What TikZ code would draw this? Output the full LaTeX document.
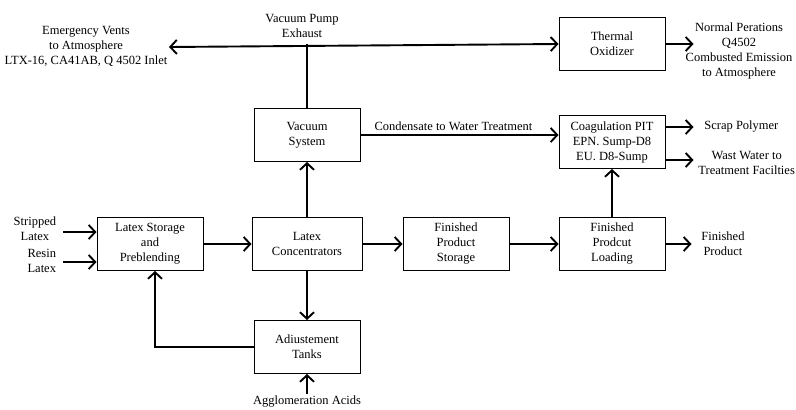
\documentclass[tikz,border=0pt]{standalone}
\usepackage{fontspec}
\setmainfont{Liberation Serif}
\usetikzlibrary{arrows.meta,positioning}

\begin{document}
\begin{tikzpicture}[
    x = 1pt, y = -1pt, % page units, y runs downwards
    > = {Straight Barb[length=6.5pt,width=14pt]}, % open arrow head
    node distance = 48pt, % distance between boxes
    font = \fontsize{12.5}{15}\selectfont,
    line width = 1.9pt % line style
    ]

    \tikzset{unit/.style={
    draw = black,
    line width = 1pt,
    fill = white,
    align = center,
    minimum width = 106pt,
    minimum height = 53pt
    }}
    \tikzset{lbl/.style={align=center, inner sep=1pt}}

    \useasboundingbox (0,0) rectangle (796,410);

    \node[unit] (lsp) at (150,244) {Latex Storage\\and\\Preblending};
    \node[unit, minimum width=110pt] (conc) [right=48pt of lsp] {Latex\\Concentrators};
    \node[unit] (fps) [right=40pt of conc] {Finished\\Product\\Storage};
    \node[unit] (fpl) [right=49pt of fps] {Finished\\Prodcut\\Loading};
    \node[unit] (vac) [above=55pt of conc] {Vacuum\\System};
    \node[unit] (adj) [below=49pt of conc] {Adiustement\\Tanks};
    \node[unit] (coag) [above=of fpl] {Coagulation PIT\\EPN. Sump-D8\\EU. D8-Sump};
    \node[unit] (thox) [above=44pt of coag] {Thermal\\Oxidizer};

    % exhaust header
    \coordinate (jct) at (vac.north |- thox.west);
    \coordinate (vent) at (169,47);
    \node[lbl] (exh) [above=4pt of jct, xshift=-5pt] {Vacuum Pump\\Exhaust};
    \node[lbl] (ventlbl) at (86,46) {Emergency Vents\\to Atmosphere\\LTX-16, CA41AB, Q 4502 Inlet};
    \draw[<->] (vent) -- (thox.west);
    \draw (vac.north) -- (jct);

    % thermal oxidizer outlet
    \coordinate[right=28pt of thox.east] (thoxout);
    \node[lbl] (emis) at (739,51) {Normal Perations\\Q4502\\Combusted Emission\\to Atmosphere};
    \draw[->] (thox.east) -- (thoxout);

    % condensate
    \draw[->] (vac.east) -- (vac.east -| coag.west)
        node[midway, above=2pt, lbl, xshift=-6pt] (cond) {Condensate to Water Treatment};

    % coagulation outlets
    \coordinate[right=28pt of coag.east, yshift=15pt] (scrapout);
    \coordinate[right=28pt of coag.east, yshift=-18pt] (wwout);
    \node[lbl] (scrap) [right=9pt of scrapout] {Scrap Polymer};
    \node[lbl] (ww) [right=3pt of wwout, yshift=-3pt] {Wast Water to\\Treatment Facilties};
    \draw[->] ([yshift=15pt]coag.east) -- (scrapout);
    \draw[->] ([yshift=-18pt]coag.east) -- (wwout);

    % feeds
    \coordinate (strip) at (63,232);
    \coordinate (resin) at (63,262);
    \node[lbl] (striplbl) [left=5pt of strip, yshift=3pt] {Stripped\\Latex};
    \node[lbl] (resinlbl) [left=5pt of resin, yshift=1pt] {Resin\\Latex};
    \draw[->] (strip) -- (strip -| lsp.west);
    \draw[->] (resin) -- (resin -| lsp.west);

    % main line
    \draw[->] (lsp) -- (conc);
    \draw[->] (conc) -- (fps);
    \draw[->] (fps) -- (fpl);
    \coordinate[right=26pt of fpl.east] (fpout);
    \node[lbl] (fp) [right=8pt of fpout] {Finished\\Product};
    \draw[->] (fpl.east) -- (fpout);
    \draw[->] (fpl) -- (coag);
    \draw[->] (conc) -- (vac);
    \draw[->] (conc) -- (adj);
    \draw[->] (adj.west) -| ([xshift=5pt]lsp.south);

    % acids
    \node[lbl] (acid) [below=20pt of adj] {Agglomeration Acids};
    \draw[->] (acid) -- (adj);
\end{tikzpicture}
\end{document}
